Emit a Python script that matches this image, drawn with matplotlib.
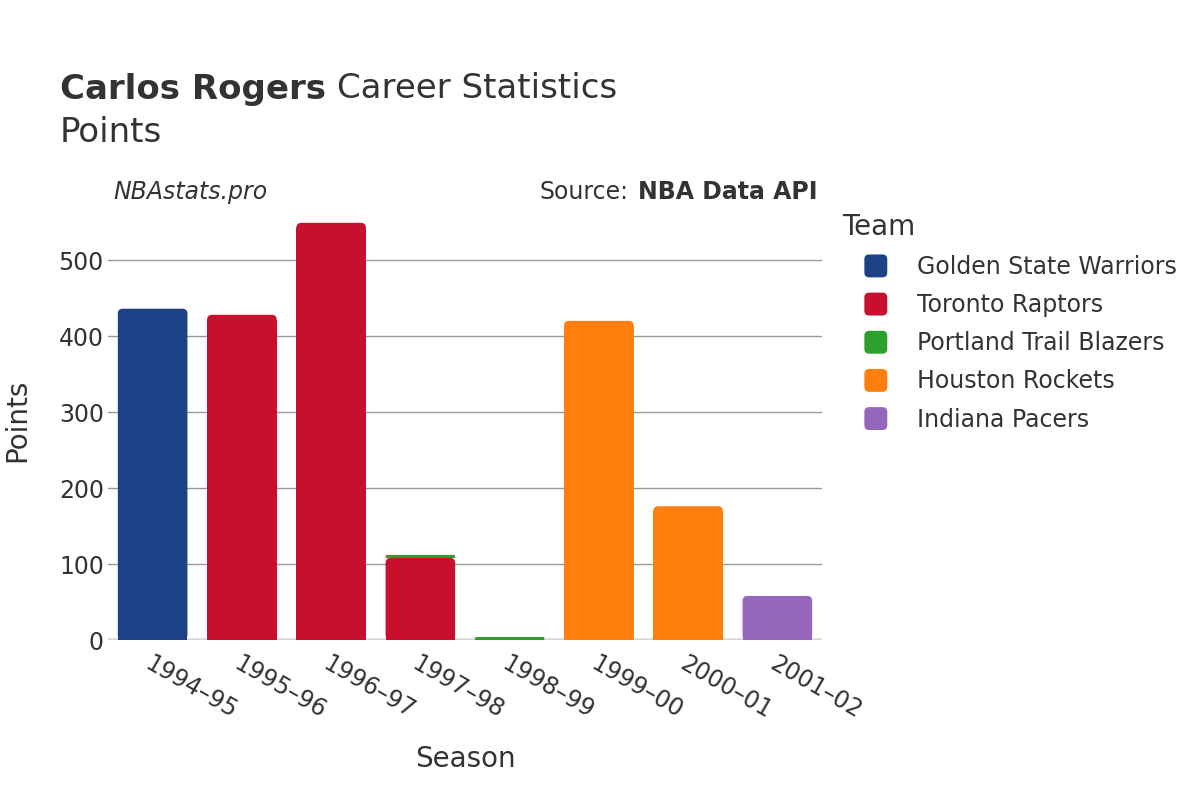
import matplotlib
matplotlib.use("Agg")
import matplotlib.pyplot as plt
from matplotlib.patches import FancyBboxPatch, Rectangle
from matplotlib.legend_handler import HandlerBase
import numpy as np

seasons = ["1994–95", "1995–96", "1996–97", "1997–98", "1998–99", "1999–00", "2000–01", "2001–02"]
teams = ["Golden State Warriors", "Toronto Raptors", "Portland Trail Blazers", "Houston Rockets", "Indiana Pacers"]
colors = ["#1c4187", "#c8102e", "#2ca02c", "#ff7f0e", "#9467bd"]
# points per team per season (stacked)
gsw = [436, 0, 0, 0, 0, 0, 0, 0]
tor = [0, 428, 549, 108, 0, 0, 0, 0]
por = [0, 0, 0, 4, 4, 0, 0, 0]
hou = [0, 0, 0, 0, 0, 420, 176, 0]
ind = [0, 0, 0, 0, 0, 0, 0, 58]
series = [gsw, tor, por, hou, ind]

plt.rcParams['font.family'] = ['DejaVu Sans']
text_color = "#333333"

fig = plt.figure(figsize=(12, 8), dpi=100)
ax_left, ax_bottom, ax_w, ax_h = 0.09, 0.2, 0.595, 0.549
ax = fig.add_axes([ax_left, ax_bottom, ax_w, ax_h])

ymax = 578
n = len(seasons)
px_per_x = ax_w * 1200 / n
px_per_y = ax_h * 800 / ymax

x = np.arange(n)
bw = 0.78
radius_px = 5.0
bottoms = np.zeros(n)
for vals, c in zip(series, colors):
    vals = np.array(vals, dtype=float)
    for i, v in enumerate(vals):
        if v <= 0:
            continue
        h_px = v * px_per_y
        r_px = min(radius_px, h_px / 2)
        rs = r_px / px_per_x
        aspect = px_per_x / px_per_y
        p = FancyBboxPatch((x[i] - bw / 2, bottoms[i]), bw, v,
                           boxstyle=f"round,pad=0,rounding_size={rs}",
                           mutation_aspect=aspect,
                           facecolor=c, edgecolor="none", zorder=3)
        ax.add_patch(p)
        sq_h = v - r_px / px_per_y
        if sq_h > 0:
            ax.add_patch(Rectangle((x[i] - bw / 2, bottoms[i]), bw, sq_h,
                                   facecolor=c, edgecolor="none", zorder=3))
    bottoms += vals

ax.set_xlim(-0.5, n - 0.5)
ax.set_ylim(0, ymax)
ax.set_yticks([0, 100, 200, 300, 400, 500])
ax.grid(axis="y", color="#999999", linewidth=1, zorder=0)
ax.axhline(0, color="#e6e6e6", linewidth=3, zorder=1)
for s in ax.spines.values():
    s.set_visible(False)
ax.tick_params(axis="both", length=0, labelsize=17, colors=text_color)
ax.tick_params(axis="y", pad=3)
ax.tick_params(axis="x", pad=8)
ax.set_xticks(x)
ax.set_xticklabels(seasons, rotation=-30, ha="left", rotation_mode="anchor")
for lab in ax.get_xticklabels():
    lab.set_color(text_color)
ax.set_xlabel("Season", fontsize=20, color=text_color, labelpad=16)
ax.set_ylabel("Points", fontsize=20, color=text_color, labelpad=20)

# Title
fig.canvas.draw()
r = fig.canvas.get_renderer()
t1 = fig.text(60 / 1200, 1 - 89 / 800, "Carlos Rogers", fontsize=24.5, fontweight="bold",
              color=text_color, va="center", ha="left")
bb = t1.get_window_extent(renderer=r)
fig.text(bb.x1 / 1200 + 0.009, 1 - 89 / 800, "Career Statistics", fontsize=24.5,
         color=text_color, va="center", ha="left")
fig.text(60 / 1200, 1 - 132 / 800, "Points", fontsize=24.5, color=text_color, va="center", ha="left")

fig.text(113 / 1200, 1 - 192 / 800, "NBAstats.pro", fontsize=17, style="italic",
         color=text_color, va="center", ha="left")
t2 = fig.text(818 / 1200, 1 - 192 / 800, "NBA Data API", fontsize=17, fontweight="bold",
              color=text_color, va="center", ha="right")
bb2 = t2.get_window_extent(renderer=r)
fig.text(bb2.x0 / 1200 - 0.0085, 1 - 192 / 800, "Source:", fontsize=17,
         color=text_color, va="center", ha="right")


# Legend with rounded squares
class HandlerRoundSquare(HandlerBase):
    def create_artists(self, legend, orig_handle, xdescent, ydescent, width, height,
                       fontsize, trans):
        s = 16.5  # points
        cx = -xdescent + width / 2
        cy = -ydescent + height / 2
        p = FancyBboxPatch((cx - s / 2, cy - s / 2), s, s,
                           boxstyle="round,pad=0,rounding_size=3.5",
                           facecolor=orig_handle.get_facecolor(), edgecolor="none",
                           transform=trans)
        return [p]


handles = [Rectangle((0, 0), 1, 1, facecolor=c) for c in colors]
fig.text(842 / 1200, 1 - 227 / 800, "Team", fontsize=20, color=text_color, va="center", ha="left")
leg = fig.legend(handles, teams, loc="upper left", bbox_to_anchor=(864 / 1200, 1 - 255 / 800),
                 frameon=False, fontsize=17, handler_map={Rectangle: HandlerRoundSquare()},
                 handlelength=1.0, handleheight=1.0,
                 labelspacing=0.6, handletextpad=1.25, borderaxespad=0, borderpad=0)
for t in leg.get_texts():
    t.set_color(text_color)

fig.savefig("out.png", dpi=100, facecolor="white")
